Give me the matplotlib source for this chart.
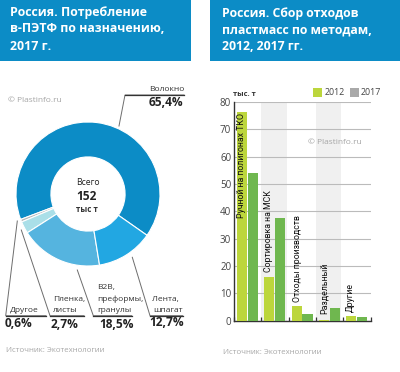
import numpy as np
import matplotlib
matplotlib.use('Agg')
import matplotlib.pyplot as plt
from matplotlib.patches import Rectangle

plt.rcParams['font.family'] = ['Open Sans', 'DejaVu Sans']

W, H = 400, 372

# donut data
shares = [65.4, 0.6, 2.7, 18.5, 12.7]
share_colors = ['#0c8cc6', '#b5b8ba', '#aadfe8', '#55b4df', '#22a7e2']

# bar data
methods = ['Ручной на полигонах ТКО', 'Сортировка на МСК', 'Отходы производств', 'Раздельный', 'Другие']
values_2012 = [76.5, 16, 5.5, 0.2, 1.7]
values_2017 = [54, 37.5, 2.5, 4.5, 1.2]
y_ticks = [0, 10, 20, 30, 40, 50, 60, 70, 80]

BLUE = '#0c8cc6'
GREY = '#a9a9a9'
DARK = '#333333'


def px_axes(fig, left, top, right, bottom):
    # axes position given in picture pixels
    return fig.add_axes([left / W, 1 - bottom / H, (right - left) / W, (bottom - top) / H])


fig = plt.figure(figsize=(W / 100, H / 100), dpi=100)

# overlay in pixel coordinates for headers, labels and leaders
ov = fig.add_axes([0, 0, 1, 1])
ov.set_xlim(0, W)
ov.set_ylim(H, 0)
ov.axis('off')
ov.set_zorder(5)

ov.add_patch(Rectangle((0, 0), 190.5, 61, color=BLUE, lw=0))
ov.add_patch(Rectangle((209.5, 0), 190.5, 61, color=BLUE, lw=0))

for y, line in zip([12.5, 29, 46], ['Россия. Потребление', 'в-ПЭТФ по назначению,', '2017 г.']):
    ov.text(10, y, line, color='white', fontsize=8.9, fontweight='bold', va='center')
for y, line in zip([14, 30.5, 47], ['Россия. Сбор отходов', 'пластмасс по методам,', '2012, 2017 гг.']):
    ov.text(222, y, line, color='white', fontsize=8.85, fontweight='bold', va='center')

# donut
ax = px_axes(fig, 16, 122, 160, 266)
ax.pie(shares, colors=share_colors, startangle=-35, radius=1,
       wedgeprops=dict(width=0.485, edgecolor='white', linewidth=0.8))
ax.set_xlim(-1, 1)
ax.set_ylim(-1, 1)

ov.text(88, 182.5, 'Всего', fontsize=6.2, color='#222222', ha='center', va='center')
ov.text(86.5, 196.5, '152', fontsize=8.6, fontweight='bold', color='#222222', ha='center', va='center')
ov.text(86.5, 209, 'тыс т', fontsize=5.8, fontweight='bold', color='#333333', ha='center', va='center')

# leaders
leaders = [
    ([119, 125, 184], [126, 95, 95]),
    ([17.3, 5.7, 46], [221, 315.7, 315.7]),
    ([21.3, 50, 84], [230, 315.7, 315.7]),
    ([77.3, 93.3, 131.7], [270, 315.7, 315.7]),
    ([132.3, 150, 182.7], [257.3, 315.7, 315.7]),
]
for xs, ys in leaders:
    ov.plot(xs, ys, color='#6d6d6d', lw=0.7, solid_joinstyle='miter')
    ov.plot(xs[1:], ys[1:], color='#333333', lw=0.9)

ov.text(184, 89.5, 'Волокно', fontsize=6, color=DARK, ha='right', va='center')
ov.text(183, 103, '65,4%', fontsize=8.6, fontweight='bold', color='#222222', ha='right', va='center')
ov.text(10, 310, 'Другое', fontsize=6, color=DARK, va='center')
ov.text(5, 323.5, '0,6%', fontsize=8.6, fontweight='bold', color='#222222', va='center')
ov.text(53, 299, 'Пленка,', fontsize=6, color=DARK, va='center')
ov.text(53, 310, 'листы', fontsize=6, color=DARK, va='center')
ov.text(51, 324, '2,7%', fontsize=8.6, fontweight='bold', color='#222222', va='center')
ov.text(97, 288, 'B2B,', fontsize=6, color=DARK, va='center')
ov.text(97, 299, 'преформы,', fontsize=6, color=DARK, va='center')
ov.text(97, 310, 'гранулы', fontsize=6, color=DARK, va='center')
ov.text(99, 324.5, '18,5%', fontsize=8.6, fontweight='bold', color='#222222', va='center')
ov.text(152, 299, 'Лента,', fontsize=6, color=DARK, va='center')
ov.text(153, 310, 'шпагат', fontsize=6, color=DARK, va='center')
ov.text(149, 323, '12,7%', fontsize=8.6, fontweight='bold', color='#222222', va='center')

ov.text(8, 101, '© Plastinfo.ru', fontsize=6, color='#a5a5a5', va='center')
ov.text(6, 351, 'Источник: Экотехнологии', fontsize=5.7, color='#a8a8a8', va='center')
ov.text(223, 352, 'Источник: Экотехнологии', fontsize=5.7, color='#a8a8a8', va='center')

# bars
bx = px_axes(fig, 234, 102, 370.7, 320.7)
bx.patch.set_alpha(0)
x = np.arange(len(methods))
for i in (1, 3):
    bx.axvspan(i - 0.5, i + 0.43, color='#f0f0f0', lw=0, zorder=0)
bx.bar(x - 0.21, values_2012, width=0.37, color='#bcd63c', zorder=3)
bx.bar(x + 0.19, values_2017, width=0.37, color='#6fb74f', zorder=3)
bx.set_xlim(-0.5, 4.5)
bx.set_ylim(0, 80)
bx.set_yticks(y_ticks)
bx.set_xticks(np.arange(-0.5, 5, 1))
bx.set_xticklabels([])
bx.tick_params(axis='x', direction='in', length=3, width=0.9, color='#333333')
bx.tick_params(axis='y', length=0, pad=2, labelsize=7, labelcolor='#444444')
bx.grid(axis='y', color='#bbbbbb', lw=0.8, zorder=1)
bx.set_axisbelow(True)
for s in ('top', 'right'):
    bx.spines[s].set_visible(False)
bx.spines['left'].set_color('#333333')
bx.spines['bottom'].set_color('#333333')
bx.spines['left'].set_linewidth(1)
bx.spines['bottom'].set_linewidth(1)

# rotated category labels, standing on their bars
label_y = [37.6, 17.8, 6.8, 2.4, 3.2]
label_x = [-0.24, 0.78, 1.82, 2.81, 3.77]
for name, lx, ly in zip(methods, label_x, label_y):
    bx.text(lx, ly, name, rotation=90, fontsize=6.3, family=['Roboto', 'DejaVu Sans'],
            color='#111111', ha='center', va='bottom', zorder=4)

# legend and unit
ov.text(233, 94, 'тыс. т', fontsize=5.4, fontweight='bold', color='#333333', va='center')
ov.add_patch(Rectangle((313, 88), 9, 9, color='#bcd63c', lw=0))
ov.text(324.5, 92.5, '2012', fontsize=6.4, color='#444444', va='center')
ov.add_patch(Rectangle((349.5, 88), 9, 9, color=GREY, lw=0))
ov.text(361, 92.5, '2017', fontsize=6.4, color='#444444', va='center')
ov.text(308, 142, '© Plastinfo.ru', fontsize=6, color='#a5a5a5', va='center')

fig.savefig('out.png', dpi=100)
